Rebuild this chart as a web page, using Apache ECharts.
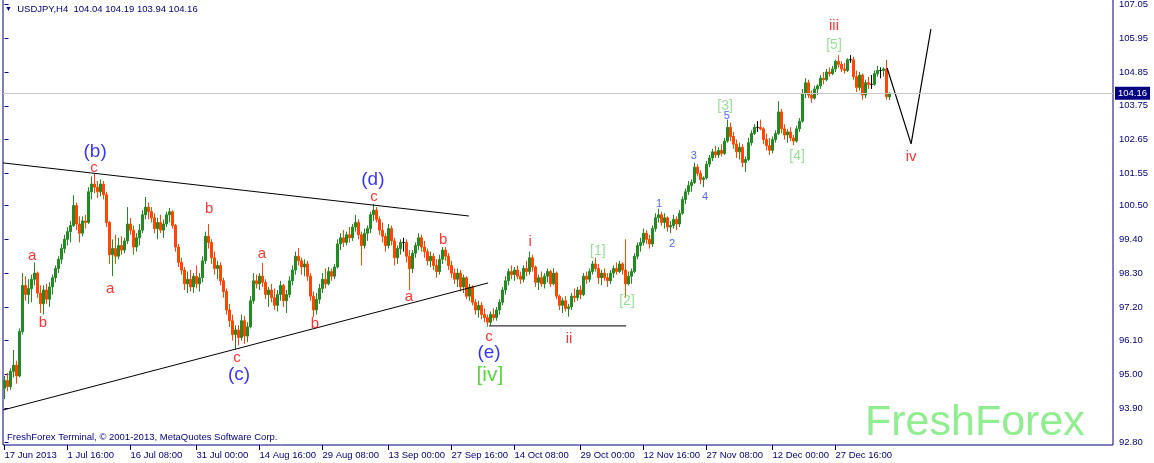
<!DOCTYPE html>
<html><head><meta charset="utf-8">
<script src="https://cdn.jsdelivr.net/npm/echarts@6/dist/echarts.min.js"></script>
<style>html,body{margin:0;padding:0;background:#fff}#c{width:1154px;height:463px}</style>
</head><body><div id="c"></div>
<script>
const symbolName = 'USDJPY', timeframe = 'H4';
const open = [
94.55,94.80,94.60,95.10,95.30,94.95,96.40,97.90,97.60,97.80,
98.10,98.30,97.65,97.30,97.75,97.45,97.85,98.15,98.45,98.75,
99.10,99.40,99.65,99.85,100.50,99.90,99.60,100.00,99.95,100.95,
101.20,101.10,100.95,101.20,100.85,99.95,98.90,99.10,98.85,99.20,
99.05,99.35,99.90,99.70,99.15,99.45,99.70,100.20,100.45,100.30,
100.10,99.75,99.95,99.70,99.90,100.20,100.30,99.85,99.15,98.65,
98.40,97.95,98.10,97.85,98.20,97.95,98.15,98.70,99.50,99.30,
98.80,98.45,98.55,98.05,97.70,97.10,96.75,96.30,96.45,96.20,
96.75,96.25,96.55,97.40,98.05,97.95,98.20,98.00,97.60,97.75,
97.50,97.25,97.60,97.90,97.40,97.60,98.05,98.40,98.85,98.70,
98.50,98.60,98.20,97.55,97.10,97.45,97.80,98.10,97.95,98.35,
98.20,98.50,99.25,99.45,99.30,99.55,99.45,99.80,99.95,99.55,
99.20,99.60,99.75,100.20,100.35,100.05,99.70,99.50,99.20,99.75,
99.35,98.80,99.10,99.30,99.30,98.85,98.45,98.95,99.20,99.45,
99.15,99.00,98.70,98.85,98.55,98.35,98.75,99.05,98.85,98.55,
98.30,98.10,98.30,97.85,98.15,97.55,97.85,97.35,97.10,97.25,
96.95,96.85,96.70,96.95,96.85,97.10,97.35,97.75,98.05,98.35,
98.25,98.40,98.20,98.10,98.45,98.35,98.80,98.50,98.00,98.15,
97.95,98.20,98.35,97.95,98.30,97.55,97.25,97.40,97.15,97.20,
97.55,97.50,97.75,97.60,98.20,98.10,98.35,98.60,98.45,98.15,
98.30,98.15,98.05,98.30,98.45,98.35,98.60,98.40,97.95,98.20,
98.35,98.85,99.20,99.30,99.60,99.40,99.25,99.75,100.10,100.20,
99.95,100.10,99.80,99.85,100.05,99.90,100.25,100.70,100.95,101.15,
101.25,101.75,101.55,101.35,101.40,101.85,102.05,102.25,102.15,102.30,
102.20,102.60,103.05,102.75,102.50,102.25,102.40,101.90,102.00,102.55,
102.85,103.05,103.05,103.00,102.65,102.45,102.30,102.65,102.85,103.55,
103.00,102.80,102.90,102.70,102.60,103.00,103.25,104.15,104.50,104.10,
104.00,104.30,104.40,104.65,104.60,104.85,104.80,104.95,105.20,105.10,
104.95,104.90,105.25,105.25,104.70,104.35,104.75,104.10,104.50,104.45,
104.45,104.80,104.90,104.90,104.95,104.04];
const high = [
94.95,95.05,95.20,95.80,95.45,96.50,98.30,98.20,98.10,98.25,
98.65,98.35,97.90,97.90,97.95,98.00,98.25,98.55,98.85,99.25,
99.55,99.80,100.00,100.84,100.60,100.15,100.15,100.20,101.10,101.45,
101.53,101.30,101.35,101.30,100.95,100.00,99.40,99.55,99.45,99.50,
99.45,100.45,100.10,99.85,99.60,99.90,100.35,100.78,100.60,100.45,
100.25,100.10,100.20,100.05,100.30,100.42,100.35,99.90,99.25,98.80,
98.50,98.35,98.40,98.30,98.55,98.30,98.85,99.65,99.90,99.40,
99.00,98.70,98.65,98.15,97.80,97.30,96.95,96.60,96.60,96.95,
96.90,96.70,97.55,98.30,98.25,98.30,98.63,98.10,97.85,97.95,
97.80,97.75,98.05,97.95,97.75,98.20,98.55,99.00,99.12,98.80,
98.75,98.70,98.30,97.70,97.65,97.95,98.30,98.45,98.50,98.45,
98.60,99.40,99.60,99.70,99.65,99.80,99.90,100.20,100.05,99.65,
99.75,99.85,100.30,100.55,100.45,100.15,99.95,99.60,99.90,99.85,
99.45,99.20,99.40,99.45,99.40,99.05,99.05,99.30,99.60,99.55,
99.35,99.10,99.00,98.95,98.75,98.90,99.15,99.15,98.95,98.70,
98.45,98.45,98.40,98.25,98.20,97.95,97.90,97.45,97.40,97.35,
97.15,96.95,97.05,97.15,97.20,97.45,97.85,98.20,98.45,98.55,
98.50,98.55,98.35,98.55,98.70,99.00,98.90,98.55,98.25,98.35,
98.30,98.45,98.40,98.46,98.35,97.60,97.50,97.55,97.30,97.65,
97.80,97.85,97.90,98.30,98.35,98.45,98.70,98.80,98.60,98.40,
98.45,98.30,98.40,98.55,98.65,98.70,98.65,99.40,98.35,98.45,
98.95,99.30,99.45,99.75,99.70,99.55,99.85,100.25,100.40,100.30,
100.25,100.15,100.00,100.20,100.15,100.35,100.80,101.05,101.30,101.35,
101.90,101.85,101.65,101.45,101.95,102.15,102.35,102.45,102.40,102.50,
102.70,103.30,103.20,102.90,102.65,102.55,102.50,102.10,102.70,102.95,
103.15,103.25,103.30,103.05,102.85,102.70,102.75,102.95,103.90,103.65,
103.15,103.00,103.05,102.80,103.10,103.35,104.30,104.65,104.60,104.25,
104.40,104.45,104.75,104.85,104.95,105.00,105.05,105.25,105.40,105.20,
105.15,105.30,105.40,105.35,104.90,104.85,104.80,104.60,104.70,104.75,
104.90,105.05,105.00,105.00,105.25,104.19];
const low = [
94.20,94.45,94.50,94.90,94.70,94.90,96.30,97.40,97.30,97.35,
97.90,97.50,97.00,96.95,97.30,97.20,97.60,98.00,98.30,98.60,
98.95,99.20,99.30,99.80,99.70,99.30,99.50,99.75,99.90,100.70,
100.90,100.75,100.80,100.70,99.80,98.60,98.20,98.60,98.75,98.90,
98.95,99.25,99.55,98.90,99.00,99.20,99.60,100.05,100.05,99.95,
99.60,99.40,99.60,99.45,99.80,99.95,99.75,99.00,98.50,98.25,
97.75,97.65,97.70,97.65,97.80,97.70,98.00,98.60,99.10,98.60,
98.25,98.10,97.90,97.50,96.95,96.55,96.10,95.80,95.95,96.10,
96.00,96.05,96.50,97.30,97.80,97.75,97.85,97.45,97.20,97.35,
97.10,97.05,97.40,97.20,97.00,97.50,97.90,98.25,98.55,98.25,
98.20,98.05,97.40,96.87,96.95,97.30,97.65,97.80,97.90,98.05,
98.10,98.45,99.05,99.15,99.20,99.30,99.35,99.65,99.40,98.55,
99.10,99.35,99.60,100.00,99.95,99.55,99.30,99.00,99.10,99.20,
98.55,98.60,98.90,99.00,98.65,97.75,98.30,98.80,99.05,99.00,
98.80,98.55,98.50,98.40,98.15,98.25,98.60,98.70,98.40,98.15,
97.95,97.85,97.70,97.65,97.45,97.40,97.25,96.95,96.85,96.80,
96.70,96.55,96.60,96.75,96.75,96.95,97.25,97.60,97.90,98.10,
98.05,98.10,97.95,98.00,98.20,98.25,98.35,97.85,97.75,97.85,
97.80,98.00,97.85,97.90,97.45,97.10,97.00,97.05,96.88,97.10,
97.35,97.40,97.45,97.55,97.95,98.00,98.25,98.35,97.95,97.90,
98.05,97.85,97.95,98.15,98.25,98.30,98.25,97.50,97.90,97.95,
98.30,98.75,99.00,99.20,99.25,99.10,99.15,99.65,99.95,99.85,
99.75,99.65,99.60,99.75,99.70,99.80,100.20,100.55,100.85,100.95,
101.20,101.45,101.20,101.10,101.35,101.75,101.95,102.05,102.05,102.10,
102.15,102.55,102.60,102.35,102.05,102.00,101.75,101.60,101.95,102.45,
102.80,102.90,102.95,102.50,102.30,102.15,102.20,102.55,102.80,102.85,
102.65,102.55,102.60,102.47,102.55,102.90,103.20,104.00,104.00,103.85,
103.95,104.10,104.30,104.45,104.55,104.70,104.75,104.85,105.00,104.85,
104.80,104.85,105.15,104.60,104.20,104.25,103.95,104.00,104.30,104.30,
104.40,104.70,104.65,104.70,103.95,103.94];
const close = [
94.80,94.60,95.10,95.30,94.95,96.40,97.90,97.60,97.80,98.10,
98.30,97.65,97.30,97.75,97.45,97.85,98.15,98.45,98.75,99.10,
99.40,99.65,99.85,100.50,99.90,99.60,100.00,99.95,100.95,101.20,
101.10,100.95,101.20,100.85,99.95,98.90,99.10,98.85,99.20,99.05,
99.35,99.90,99.70,99.15,99.45,99.70,100.20,100.45,100.30,100.10,
99.75,99.95,99.70,99.90,100.20,100.30,99.85,99.15,98.65,98.40,
97.95,98.10,97.85,98.20,97.95,98.15,98.70,99.50,99.30,98.80,
98.45,98.55,98.05,97.70,97.10,96.75,96.30,96.45,96.20,96.75,
96.25,96.55,97.40,98.05,97.95,98.20,98.00,97.60,97.75,97.50,
97.25,97.60,97.90,97.40,97.60,98.05,98.40,98.85,98.70,98.50,
98.60,98.20,97.55,97.10,97.45,97.80,98.10,97.95,98.35,98.20,
98.50,99.25,99.45,99.30,99.55,99.45,99.80,99.95,99.55,99.20,
99.60,99.75,100.20,100.35,100.05,99.70,99.50,99.20,99.75,99.35,
98.80,99.10,99.30,99.30,98.85,98.45,98.95,99.20,99.45,99.15,
99.00,98.70,98.85,98.55,98.35,98.75,99.05,98.85,98.55,98.30,
98.10,98.30,97.85,98.15,97.55,97.85,97.35,97.10,97.25,96.95,
96.85,96.70,96.95,96.85,97.10,97.35,97.75,98.05,98.35,98.25,
98.40,98.20,98.10,98.45,98.35,98.80,98.50,98.00,98.15,97.95,
98.20,98.35,97.95,98.30,97.55,97.25,97.40,97.15,97.20,97.55,
97.50,97.75,97.60,98.20,98.10,98.35,98.60,98.45,98.15,98.30,
98.15,98.05,98.30,98.45,98.35,98.60,98.40,97.95,98.20,98.35,
98.85,99.20,99.30,99.60,99.40,99.25,99.75,100.10,100.20,99.95,
100.10,99.80,99.85,100.05,99.90,100.25,100.70,100.95,101.15,101.25,
101.75,101.55,101.35,101.40,101.85,102.05,102.25,102.15,102.30,102.20,
102.60,103.05,102.75,102.50,102.25,102.40,101.90,102.00,102.55,102.85,
103.05,103.05,103.00,102.65,102.45,102.30,102.65,102.85,103.55,103.00,
102.80,102.90,102.70,102.60,103.00,103.25,104.15,104.50,104.10,104.00,
104.30,104.40,104.65,104.60,104.85,104.80,104.95,105.20,105.10,104.95,
104.90,105.25,105.25,104.70,104.35,104.75,104.10,104.50,104.45,104.45,
104.80,104.90,104.90,104.95,104.05,104.16];

const xTickLabels = ['17 Jun 2013','1 Jul 16:00','16 Jul 08:00','31 Jul 00:00','14 Aug 16:00','29 Aug 08:00','13 Sep 00:00','27 Sep 16:00','14 Oct 08:00','29 Oct 00:00','12 Nov 16:00','27 Nov 08:00','12 Dec 00:00','27 Dec 16:00'];
const xTickBars = [0,21,42,64,85,106,128,149,170,192,213,234,256,277];
const yTicks = [92.80,93.90,95.00,96.10,97.20,98.30,99.40,100.50,101.55,102.65,103.75,104.85,105.95,107.05];

const upperTrendline = [[-0.5,101.89],[154.8,100.16]];
const lowerTrendline = [[-0.5,93.84],[161.2,97.98]];
const waveCLevel = [[161.5,96.58],[207.2,96.58]];
const forecastPath = [[294.2,104.98],[302.2,102.51],[308.8,106.25]];

const waveText = ['(b)','c','a','b','a','b','a','c','(c)','b','(d)','c','a','b','c','(e)','[iv]','i','ii','[1]','[2]','1','2','3','4','5','[3]','[4]','[5]','iii','iv'];
const waveBar = [30.2,29.8,9.2,12.8,35.2,68.2,85.8,77.5,78.2,103.5,122.8,123.2,134.8,146.2,161.5,161.5,161.8,175.2,188.2,197.8,207.5,218.2,222.5,229.8,233.5,240.8,240.2,264.2,276.5,276.5,302.2];
const wavePrice = [102.25,101.72,98.86,96.68,97.78,100.39,98.92,95.54,94.98,96.64,101.33,100.78,97.52,99.38,96.22,95.70,94.98,99.31,96.15,99.02,97.39,100.55,99.25,102.12,100.78,103.42,103.74,102.12,105.73,106.35,102.08];
const waveDegree = ['intermediate','minor','minor','minor','minor','minor','minor','minor','intermediate','minor','intermediate','minor','minor','minor','minor','intermediate','primary','minor','minor','minute','minute','minuette','minuette','minuette','minuette','minuette','minute','minute','minute','minor','minor'];

// ---- build ----
const N_CATS = 370;
const NAVY = '#000080';
const FONT = 'Liberation Sans, Arial, sans-serif';
const labelMap = {};
xTickBars.forEach((b, k) => labelMap[b] = xTickLabels[k]);
const categories = Array.from({length: N_CATS}, (_, i) => String(i));
const candles = close.map((c, i) => [open[i], c, low[i], high[i]]);
const last = close.length - 1;

const degreeStyle = {
  primary: {color: '#33cc11', fontSize: 21},
  intermediate: {color: '#0000ff', fontSize: 19},
  minor: {color: '#ff0000', fontSize: 15},
  minute: {color: '#7ad87a', fontSize: 14},
  minuette: {color: '#2040ff', fontSize: 11}
};
const waveData = waveText.map((t, i) => ({
  value: [waveBar[i], wavePrice[i]],
  name: t,
  label: {
    show: true, position: 'inside', formatter: t,
    color: degreeStyle[waveDegree[i]].color,
    fontSize: degreeStyle[waveDegree[i]].fontSize,
    fontFamily: FONT, textBorderWidth: 0
  }
}));

function lineSeries(data, w) {
  return {type: 'line', xAxisIndex: 1, yAxisIndex: 0, data: data, showSymbol: false, symbol: 'none',
    lineStyle: {color: '#000', width: w || 1}, silent: true, z: 4, animation: false};
}

const chart = echarts.init(document.getElementById('c'), null, {renderer: 'canvas'});
chart.setOption({
  animation: false,
  backgroundColor: '#fff',
  grid: {left: 3, right: 41, top: -1, bottom: 18, show: true, borderColor: NAVY, borderWidth: 1,
    backgroundColor: '#fff', outerBoundsMode: 'none', containLabel: false},
  xAxis: [{
    type: 'category', data: categories, boundaryGap: true,
    axisLine: {show: false},
    axisTick: {show: true, alignWithLabel: true, length: 5, interval: (i) => labelMap[i] !== undefined,
      lineStyle: {color: NAVY}},
    axisLabel: {interval: (i) => labelMap[i] !== undefined, formatter: (v, i) => labelMap[i] || '',
      align: 'left', padding: [0, 0, 0, 0], margin: 5, color: NAVY, fontSize: 9.5, fontFamily: FONT},
    splitLine: {show: false}
  }, {
    type: 'value', min: -0.5, max: N_CATS - 0.5, show: false
  }],
  yAxis: [{
    type: 'value', position: 'right', min: 92.701, max: 107.229,
    axisLine: {show: false},
    axisTick: {show: true, length: 4, customValues: yTicks, lineStyle: {color: NAVY}},
    axisLabel: {customValues: yTicks, formatter: (v) => Number(v).toFixed(2), color: NAVY,
      fontSize: 9.5, fontFamily: FONT, margin: 6},
    splitLine: {show: false}
  }],
  graphic: [
    {type: 'text', left: 5, top: 4, z: 10, style: {
      text: '{t|▼}  ' + symbolName + ',' + timeframe + '  ' + [open[last], high[last], low[last], close[last]].map(v => v.toFixed(2)).join(' '),
      fill: NAVY, font: '9.5px ' + FONT,
      rich: {t: {fontSize: 7, fill: NAVY}}
    }},
    {type: 'text', left: 7, top: 432, z: 10, style: {
      text: 'FreshForex Terminal, © 2001-2013, MetaQuotes Software Corp.', fill: NAVY, font: '9.5px ' + FONT
    }},
    {type: 'text', left: 865, top: 402, z: 1, style: {
      text: 'FreshForex', fill: '#90ee90', font: '43px ' + FONT
    }}
  ],
  series: [
    {
      type: 'candlestick', xAxisIndex: 0, yAxisIndex: 0, data: candles, barWidth: 2, z: 3,
      itemStyle: {color: '#228b22', color0: '#ff4500', borderColor: '#228b22', borderColor0: '#ff4500',
        borderColorDoji: '#000', borderWidth: 1},
      markLine: {
        silent: true, symbol: ['none', 'none'], animation: false,
        data: [{yAxis: close[last]}],
        lineStyle: {color: '#c8c8c8', type: 'solid', width: 1},
        label: {show: true, position: 'end', formatter: (p) => Number(p.value).toFixed(2),
          backgroundColor: NAVY, color: '#fff', padding: [2, 3, 1, 3], fontSize: 9.5, fontFamily: FONT, distance: 2}
      }
    },
    lineSeries(upperTrendline),
    lineSeries(lowerTrendline),
    lineSeries(waveCLevel),
    lineSeries(forecastPath, 1.2),
    {
      type: 'scatter', xAxisIndex: 1, yAxisIndex: 0, data: waveData, symbolSize: 1,
      itemStyle: {color: 'rgba(0,0,0,0)'}, silent: true, z: 6, animation: false
    }
  ]
});
</script>
</body></html>
